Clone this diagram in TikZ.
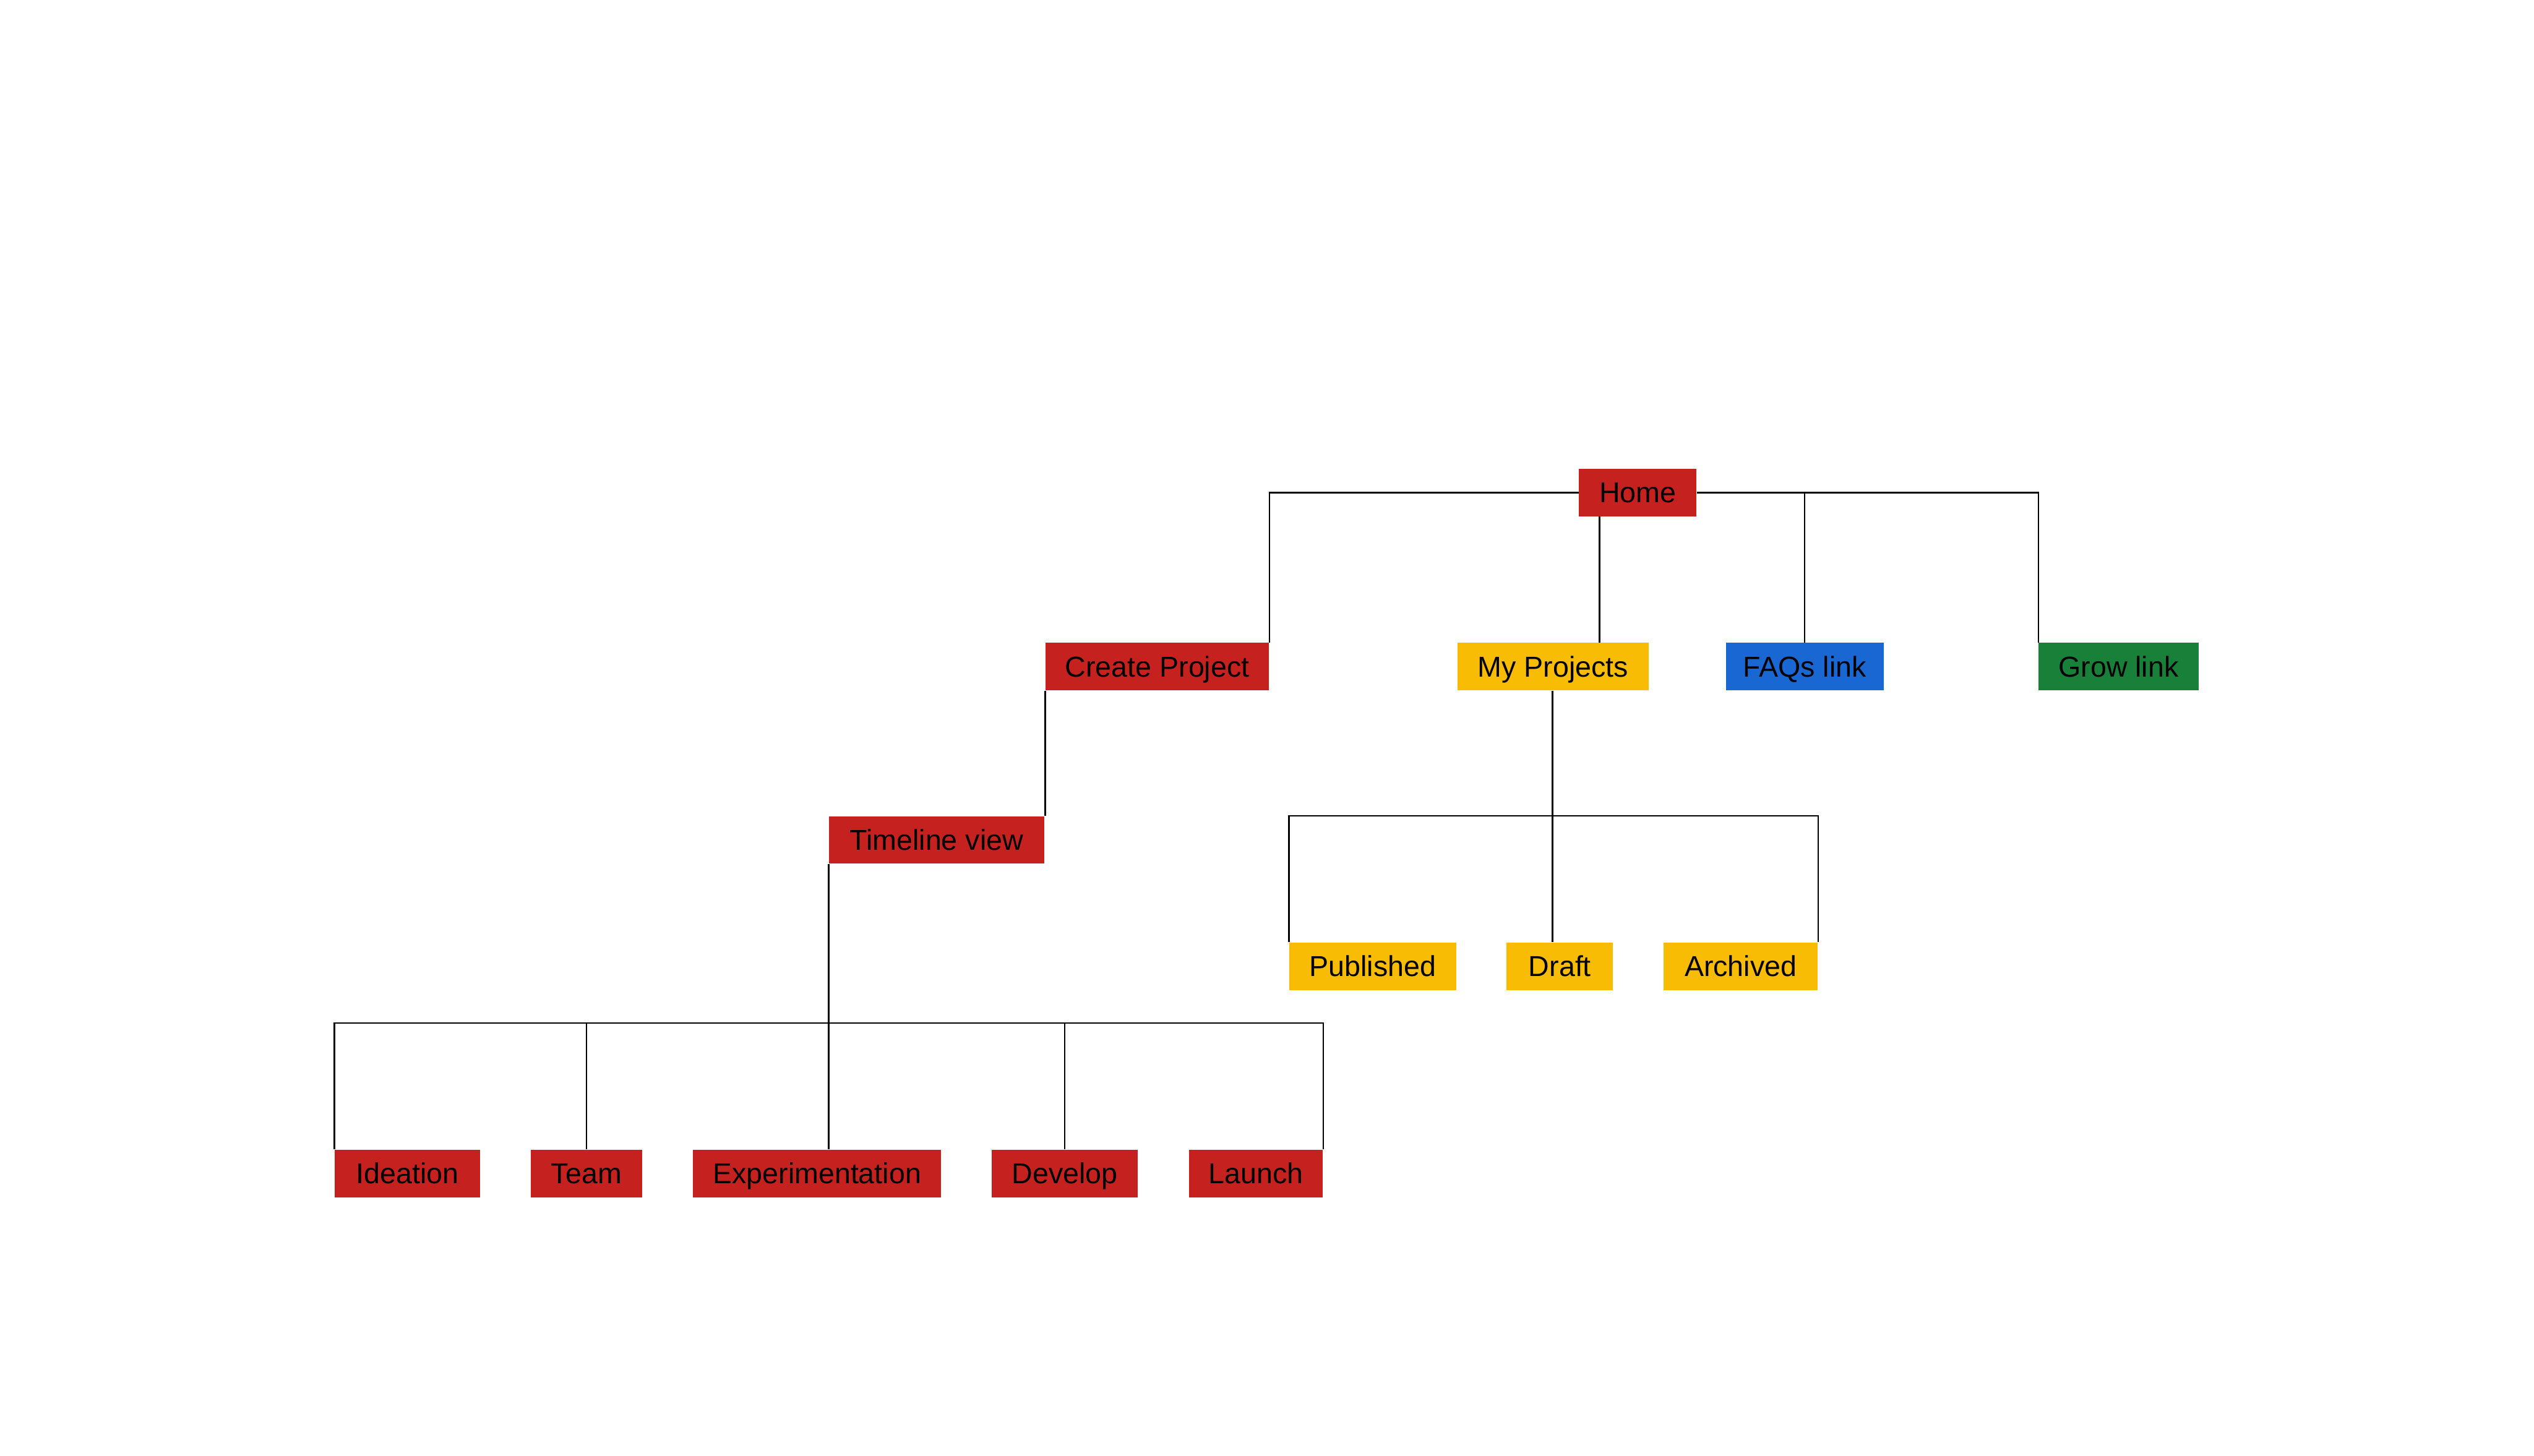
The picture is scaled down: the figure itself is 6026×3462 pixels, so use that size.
\documentclass[tikz,border=0pt]{standalone}
\usepackage{fontspec}
\setsansfont{Liberation Sans}

\definecolor{pagered}{HTML}{C5221F}
\definecolor{pageyellow}{HTML}{F9BC04}
\definecolor{pageblue}{HTML}{1967D2}
\definecolor{pagegreen}{HTML}{188038}

\tikzset{
    % Page boxes of the site map
    sitepage/.style={
        draw=none,
        rectangle,
        inner sep=0pt,
        minimum height=11.3mm,
        text height=17.9pt,
        text depth=4pt,
        align=center,
        text=black,
        font=\sffamily\fontsize{19.5}{23}\selectfont
    },
    redpage/.style={sitepage, fill=pagered},
    yellowpage/.style={sitepage, fill=pageyellow},
    bluepage/.style={sitepage, fill=pageblue},
    greenpage/.style={sitepage, fill=pagegreen},
    % Tree links
    treeline/.style={
        draw=black,
        line width=1.1pt
    }
}

\begin{document}
\begin{tikzpicture}[x=0.1mm, y=-0.1mm]

\useasboundingbox (0,0) rectangle (6026,3462);

% === TOP LEVEL ===
\node[redpage, minimum width=27.9mm] (home) at (3894.5,1171.5) {Home};

% Row 1: main sections
\node[redpage, minimum width=53.2mm] (create) at (2752,1585.5) {Create Project};
\node[yellowpage, minimum width=45.5mm] (myproj) at (3693.5,1585.5) {My Projects};
\node[bluepage, minimum width=37.5mm] (faqs) at (4291.5,1585.5) {FAQs link};
\node[greenpage, minimum width=38mm] (grow) at (5038,1585.5) {Grow link};

% Links from Home
\draw[treeline] (home.west) -| (create.north east);
\draw[treeline] (home.east) -| (grow.north west);
\draw[treeline] (home.east -| faqs.north) -- (faqs.north);
\draw[treeline] ([xshift=11mm]myproj.north) -- ([xshift=11mm]myproj.north |- home.south);

% === CREATE PROJECT BRANCH ===
\node[redpage, minimum width=51.2mm] (timeline) at (2227,1998) {Timeline view};

\draw[treeline] (create.south west) -- (create.south west |- timeline.north);

% Row 3: project stages
\node[redpage, minimum width=34.5mm] (ideation) at (968.5,2791) {Ideation};
\node[redpage, minimum width=26.5mm] (team) at (1394.5,2791) {Team};
\node[redpage, minimum width=59mm] (experiment) at (1943,2791) {Experimentation};
\node[redpage, minimum width=34.6mm] (develop) at (2532,2791) {Develop};
\node[redpage, minimum width=31.9mm] (launch) at (2986.5,2791) {Launch};

% Links from Timeline view
\draw[treeline] (timeline.south west) -- ++(0,378) coordinate (stagebus);
\draw[treeline] (ideation.north west) |- (stagebus) -| (launch.north east);
\draw[treeline] (team.north) -- (team.north |- stagebus);
\draw[treeline] (stagebus) -- (stagebus |- experiment.north);
\draw[treeline] (develop.north) -- (develop.north |- stagebus);

% === MY PROJECTS BRANCH ===
\node[yellowpage, minimum width=39.7mm] (published) at (3264.5,2298.5) {Published};
\node[yellowpage, minimum width=25.3mm] (draft) at (3709.5,2298.5) {Draft};
\node[yellowpage, minimum width=36.7mm] (archived) at (4139.5,2298.5) {Archived};

% Links from My Projects
\draw[treeline] ([xshift=-0.15mm]myproj.south) -- ++(0,298) coordinate (statusbus);
\draw[treeline] (published.north west) |- (statusbus) -| (archived.north east);
\draw[treeline] (statusbus) -- (statusbus |- draft.north);

\end{tikzpicture}
\end{document}
